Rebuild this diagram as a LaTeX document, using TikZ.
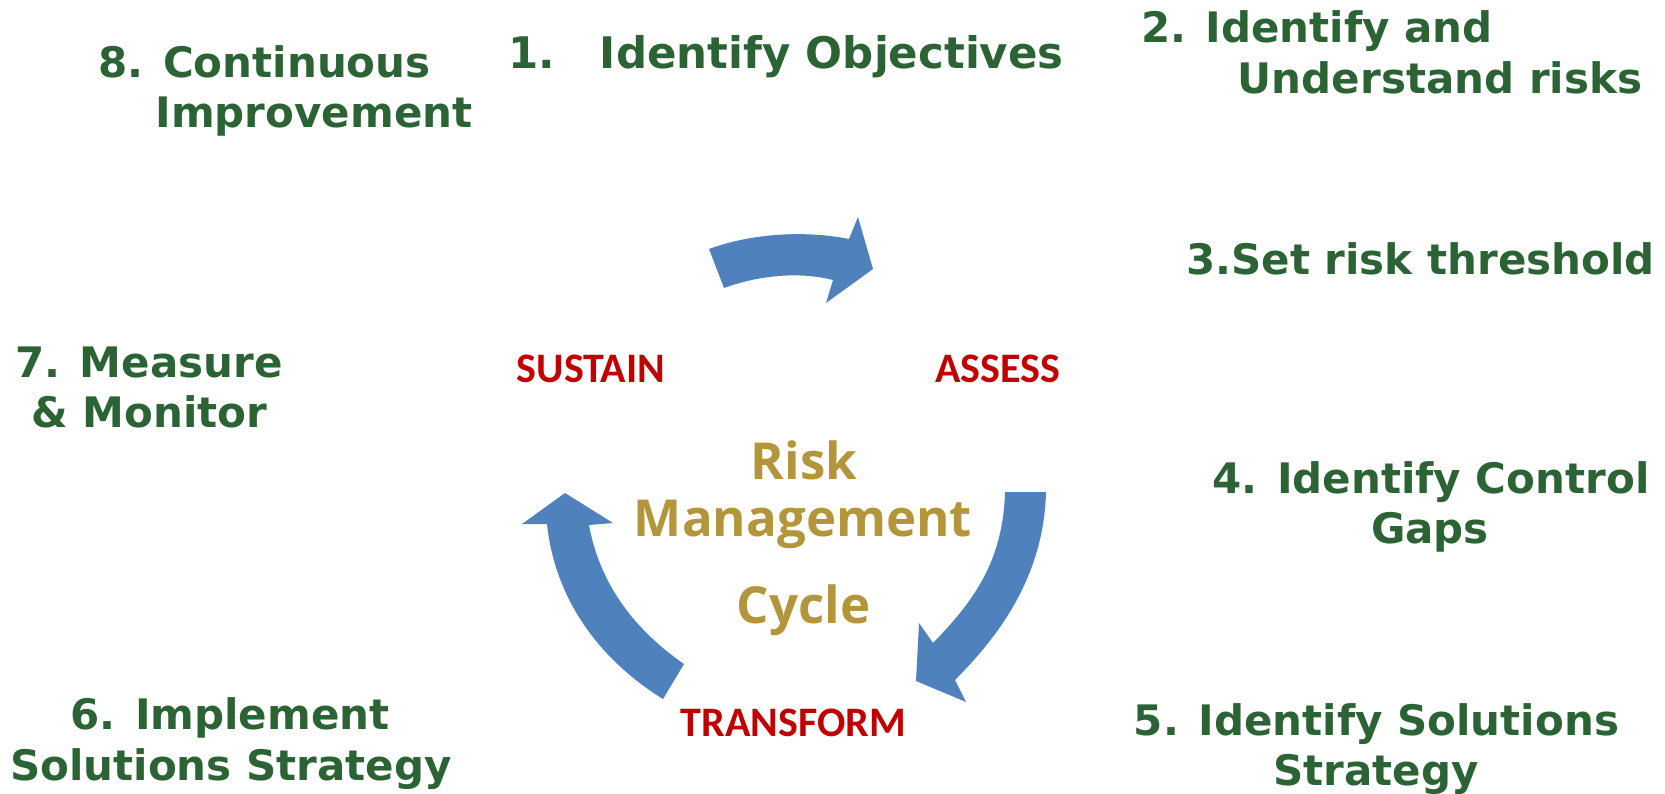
\documentclass[tikz,border=0pt]{standalone}
\usepackage{fontspec}
\newfontfamily\stepfont{DejaVu Sans}
\newfontfamily\phasefont{Carlito}
\newfontfamily\titlefont{Open Sans}
\definecolor{stepgreen}{RGB}{43,99,52}
\definecolor{phasered}{RGB}{192,0,0}
\definecolor{titlegold}{RGB}{179,150,60}
\definecolor{cycleblue}{RGB}{79,129,189}
\tikzset{
  steplabel/.style={anchor=base, inner sep=0pt, text=stepgreen,
    font=\stepfont\bfseries\fontsize{42}{50}\selectfont},
  phaselabel/.style={anchor=base, inner sep=0pt, text=phasered,
    font=\phasefont\bfseries\fontsize{42}{48}\selectfont},
  titlelabel/.style={anchor=base, inner sep=0pt, text=titlegold,
    font=\titlefont\bfseries\fontsize{51}{58}\selectfont},
  cyclearrow/.style={fill=cycleblue, draw=none}
}
\begin{document}
\begin{tikzpicture}[x=1pt, y=-1pt]
\useasboundingbox (0,0) rectangle (1665,794);

% curved arrows of the cycle
\fill[cyclearrow] (709,249) -- (724,288)
  .. controls (757,276) and (797,271) .. (833,280)
  -- (826,303) -- (873,269) -- (858,217) -- (849,239)
  .. controls (810,231) and (755,232) .. (709,249) -- cycle;
\fill[cyclearrow] (1046,492) -- (1005,492)
  .. controls (1003,560) and (975,600) .. (933,643)
  -- (919,623) -- (916,681) -- (966,702) -- (955,680)
  .. controls (1000,635) and (1044,575) .. (1046,492) -- cycle;
\fill[cyclearrow] (565,493) -- (613,523) -- (589,525)
  .. controls (600,585) and (635,630) .. (684,664)
  -- (663,699)
  .. controls (600,660) and (555,600) .. (547,524)
  -- (522,524) -- cycle;

% phases
\node[phaselabel] (sustain) at (591,382) {SUSTAIN};
\node[phaselabel] (assess) at (997.5,382) {ASSESS};
\node[phaselabel] (transform) at (793.5,736) {TRANSFORM};

% centre title
\node[titlelabel] (risk) at (804,479) {Risk};
\node[titlelabel] (mgmt) at (803,536) {Management};
\node[titlelabel] (cycle) at (803.5,623) {Cycle};

% steps
\node[steplabel, anchor=base west, font=\stepfont\bfseries\fontsize{43.5}{50}\selectfont]
  (s1) at (508,68.5) {1.\hspace{45pt}Identify Objectives};
\node[steplabel] (s2a) at (1317,42.5) {2. Identify and};
\node[steplabel] (s2b) at (1440,93.5) {Understand risks};
\node[steplabel] (s3) at (1420.5,275) {3.Set risk threshold};
\node[steplabel] (s4a) at (1431,493) {4. Identify Control};
\node[steplabel] (s4b) at (1430,543) {Gaps};
\node[steplabel] (s5a) at (1376.5,735) {5. Identify Solutions};
\node[steplabel] (s5b) at (1376,785) {Strategy};
\node[steplabel] (s6a) at (230,729) {6. Implement};
\node[steplabel] (s6b) at (231,780) {Solutions Strategy};
\node[steplabel] (s7a) at (149,377) {7. Measure};
\node[steplabel] (s7b) at (149.5,427) {\& Monitor};
\node[steplabel] (s8a) at (264.5,78) {8. Continuous};
\node[steplabel] (s8b) at (314,128) {Improvement};
\end{tikzpicture}
\end{document}
